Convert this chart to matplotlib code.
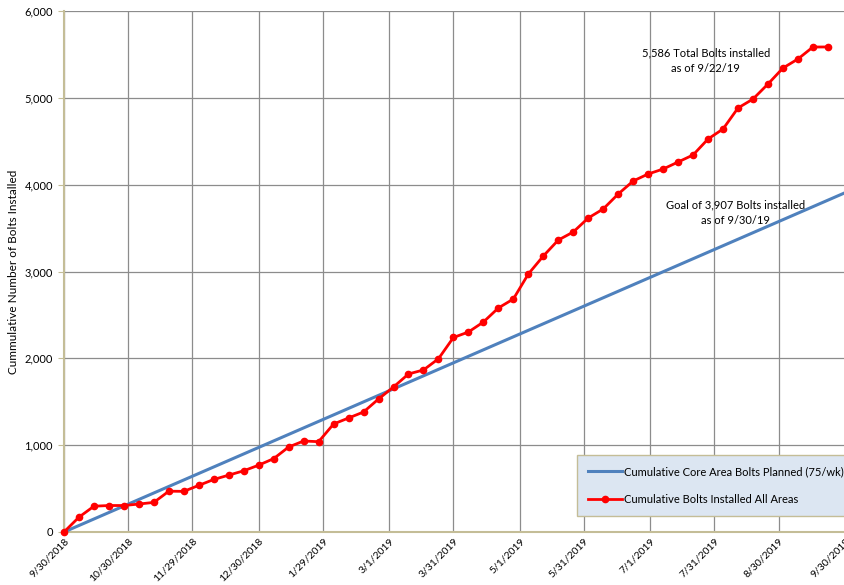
import numpy as np
import pandas as pd
import matplotlib
matplotlib.use('Agg')
import matplotlib.pyplot as plt
from matplotlib.ticker import FuncFormatter

plt.rcParams['font.family'] = ['Lato', 'DejaVu Sans']

# weekly installed bolts (cumulative), starting 9/30/2018
start = pd.Timestamp('2018-09-30')
installed = [0, 171, 297, 305, 305, 322, 341, 470, 468, 537,
             605, 655, 705, 770, 845, 979, 1048, 1040, 1244, 1313,
             1382, 1532, 1670, 1820, 1866, 1995, 2240, 2303, 2418, 2580,
             2683, 2971, 3178, 3362, 3455, 3616, 3720, 3892, 4042, 4123,
             4180, 4261, 4342, 4526, 4641, 4883, 4986, 5159, 5343, 5447,
             5585, 5586]
inst_dates = [start + pd.Timedelta(days=7 * i) for i in range(len(installed))]

# planned line (75/wk)
plan_dates = [pd.Timestamp('2018-09-30'), pd.Timestamp('2019-09-30')]
planned = [0, 3907]

tick_labels = ['9/30/2018', '10/30/2018', '11/29/2018', '12/30/2018', '1/29/2019',
               '3/1/2019', '3/31/2019', '5/1/2019', '5/31/2019', '7/1/2019',
               '7/31/2019', '8/30/2019', '9/30/2019']
tick_dates = [pd.to_datetime(t, format='%m/%d/%Y') for t in tick_labels]

fig = plt.figure(figsize=(8.45, 5.85), dpi=100)
ax = fig.add_axes([64 / 845, 53 / 585, 781 / 845, 521 / 585])

ax.plot(plan_dates, planned, color='#4f81bd', lw=2.2,
        label='Cumulative Core Area Bolts Planned (75/wk)', zorder=3)
ax.plot(inst_dates, installed, color='#ff0000', lw=2, marker='o', ms=4.5,
        label='Cumulative Bolts Installed All Areas', zorder=4, clip_on=False)

ax.set_xlim(tick_dates[0], tick_dates[-1])
ax.set_ylim(0, 6000)
ax.set_xticks(tick_dates)
ax.set_xticklabels(tick_labels, rotation=45, ha='right', rotation_mode='anchor', fontsize=7.5)
ax.set_yticks(np.arange(0, 6001, 1000))
ax.yaxis.set_major_formatter(FuncFormatter(lambda v, p: f'{int(v):,}'))
ax.tick_params(axis='y', labelsize=8, length=4, color='#c4bd97', pad=4)
ax.tick_params(axis='x', length=0, pad=3)

ax.grid(True, color='#8c8c8c', lw=0.9)
ax.set_axisbelow(True)
for s in ['top', 'right']:
    ax.spines[s].set_visible(False)
for s in ['left', 'bottom']:
    ax.spines[s].set_color('#c4bd97')
    ax.spines[s].set_linewidth(1.5)

ax.set_ylabel('Cummulative Number of Bolts Installed', fontsize=8.5, labelpad=4)

ax.text(pd.Timestamp('2019-07-27'), 5424, '5,586 Total Bolts installed\nas of 9/22/19',
        ha='center', va='center', fontsize=8, linespacing=1.5)
ax.text(pd.Timestamp('2019-08-10'), 3680, 'Goal of 3,907 Bolts installed\nas of 9/30/19',
        ha='center', va='center', fontsize=8, linespacing=1.5)

leg = ax.legend(loc='lower left', bbox_to_anchor=(0.657, 0.031, 0.345, 0.125),
                mode='expand', fontsize=8, frameon=True, fancybox=False,
                handlelength=3, handletextpad=0.2, labelspacing=1.5,
                borderpad=1.0, borderaxespad=0)
leg.get_frame().set_facecolor('#dce6f2')
leg.get_frame().set_edgecolor('#c4bd97')
leg.get_frame().set_alpha(1)

fig.savefig('out.png', dpi=100)
